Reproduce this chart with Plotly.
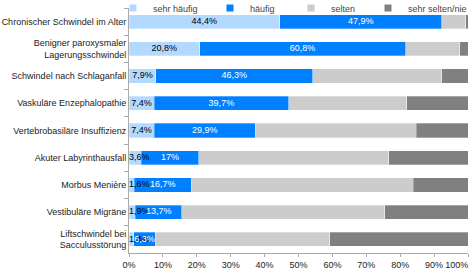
import plotly.graph_objects as go

categories = [
    "Chronischer Schwindel im Alter",
    "Benigner paroxysmaler<br>Lagerungsschwindel",
    "Schwindel nach Schlaganfall",
    "Vaskuläre Enzephalopathie",
    "Vertebrobasiläre Insuffizienz",
    "Akuter Labyrinthausfall",
    "Morbus Menière",
    "Vestibuläre Migräne",
    "Liftschwindel bei<br>Sacculusstörung",
]
sehr_haeufig = [44.4, 20.8, 7.9, 7.4, 7.4, 3.6, 1.6, 1.9, 1.4]
haeufig = [47.9, 60.8, 46.3, 39.7, 29.9, 17.0, 16.7, 13.7, 6.3]
selten = [7.0, 15.9, 38.1, 34.8, 47.5, 56.0, 65.6, 59.9, 51.5]
sehr_selten = [0.7, 2.5, 7.7, 18.1, 15.2, 23.4, 16.1, 24.5, 40.8]
x_ticks = [0, 10, 20, 30, 40, 50, 60, 70, 80, 90, 100]


def fmt(v):
    s = f"{v:.1f}".replace(".", ",")
    if s.endswith(",0"):
        s = s[:-2]
    return s + "%"


series = [
    ("sehr häufig", sehr_haeufig, "#b3d9ff", "black", True),
    ("häufig", haeufig, "#0080ff", "white", True),
    ("selten", selten, "#cccccc", "black", False),
    ("sehr selten/nie", sehr_selten, "#808080", "black", False),
]
legend_x_px = [113, 210, 291, 368]

fig = go.Figure()
base = [0.0] * len(categories)
label_traces = []
for i, (name, vals, color, tcol, show) in enumerate(series):
    fig.add_trace(go.Bar(
        y=categories, x=vals, name=name, orientation="h", showlegend=False,
        marker=dict(color=color, line=dict(color="rgba(255,255,255,0.6)", width=0.5)),
        hoverinfo="skip",
    ))
    lg = "legend" if i == 0 else f"legend{i + 1}"
    fig.add_trace(go.Scatter(
        x=[None], y=[None], mode="markers", name=name, legend=lg,
        marker=dict(symbol="square", size=7, color=color), hoverinfo="skip",
    ))
    if show:
        xs, pos = [], []
        for b, v in zip(base, vals):
            if v < 5:
                xs.append(b)
                pos.append("middle right")
            else:
                xs.append(b + v / 2)
                pos.append("middle center")
        label_traces.append(go.Scatter(
            y=categories, x=xs, mode="text", text=[fmt(v) for v in vals],
            textposition=pos, showlegend=False, hoverinfo="skip",
            textfont=dict(color=tcol, size=9, family="Liberation Sans"),
        ))
    base = [b + v for b, v in zip(base, vals)]

for t in label_traces:
    fig.add_trace(t)

tick_text = [f"{t}%" for t in x_ticks]
tick_text[-1] = tick_text[-1] + "\u00a0" * 9

legend_common = dict(orientation="h", y=1 - 8 / 269, xref="container", yref="container",
                     xanchor="left", yanchor="middle", font=dict(size=9, color="#444"),
                     itemwidth=30, bgcolor="rgba(0,0,0,0)")
legends = {}
for i, px in enumerate(legend_x_px):
    key = "legend" if i == 0 else f"legend{i + 1}"
    legends[key] = dict(legend_common, x=px / 470)

fig.update_layout(
    barmode="stack",
    width=470, height=269,
    margin=dict(l=129, r=2, t=8, b=16, autoexpand=False),
    bargap=0.48,
    paper_bgcolor="white", plot_bgcolor="white",
    font=dict(family="Liberation Sans", size=9, color="#222"),
    showlegend=True,
    **legends,
)
fig.update_xaxes(range=[0, 100], tickvals=x_ticks, ticktext=tick_text,
                 showgrid=False, zeroline=False, showline=True, linecolor="#aaa",
                 ticks="outside", ticklen=3, tickcolor="#aaa", automargin=False,
                 ticklabeloverflow="allow",
                 tickfont=dict(size=9, color="#222"))
fig.update_yaxes(autorange="reversed", showgrid=False, showline=True, linecolor="#aaa",
                 ticks="outside", ticklen=4, tickcolor="#aaa", tickson="boundaries",
                 automargin=False, tickfont=dict(size=9, color="#222"))

fig.write_html("out.html", config={"displayModeBar": False},
               post_script="document.body.style.margin='0';")
